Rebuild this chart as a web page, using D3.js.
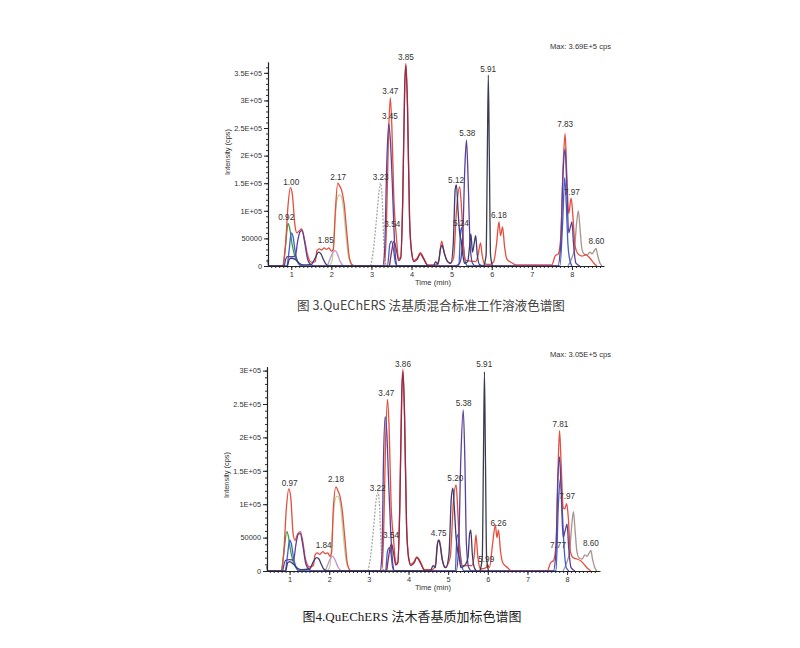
<!DOCTYPE html>
<html>
<head>
<meta charset="utf-8">
<script src="https://cdn.jsdelivr.net/npm/d3@7"></script>
<style>
  body { margin: 0; background: #fff; }
  svg { display: block; }
</style>
</head>
<body>
<svg width="800" height="648"></svg>
<script>
// ---- data: figure 3 (mixed standard) ----
var xTicks = [1, 2, 3, 4, 5, 6, 7, 8];
var yTicksTop = [0, 50000, 100000, 150000, 200000, 250000, 300000, 350000];
var yTicksBot = [0, 50000, 100000, 150000, 200000, 250000, 300000];

var redTop = [[0.42,0],[0.78,0],[0.85,30e3],[0.92,110e3],[0.98,142e3],[1.03,128e3],[1.09,75e3],[1.14,60e3],[1.2,64e3],[1.26,67e3],[1.32,52e3],[1.4,22e3],[1.5,7e3],[1.6,8e3],[1.64,28e3],[1.7,31e3],[1.76,29e3],[1.82,33e3],[1.88,30e3],[1.94,33e3],[2.0,27e3],[2.05,30e3],[2.1,100e3],[2.16,150e3],[2.2,146e3],[2.26,136e3],[2.32,112e3],[2.38,65e3],[2.45,15e3],[2.52,2e3],[2.6,0],[3.32,0],[3.37,60e3],[3.42,220e3],[3.47,305e3],[3.51,250e3],[3.56,120e3],[3.62,55e3],[3.68,14e3],[3.73,15e3],[3.78,120e3],[3.83,330e3],[3.86,367e3],[3.9,290e3],[3.95,90e3],[4.0,28e3],[4.06,10e3],[4.14,14e3],[4.22,24e3],[4.3,15e3],[4.4,2e3],[4.6,2e3],[4.68,10e3],[4.75,45e3],[4.8,30e3],[4.88,10e3],[4.96,5e3],[5.05,15e3],[5.12,100e3],[5.2,144e3],[5.25,100e3],[5.3,30e3],[5.35,10e3],[5.6,8e3],[5.66,20e3],[5.72,42e3],[5.76,20e3],[5.82,4e3],[5.96,3e3],[6.05,8e3],[6.12,40e3],[6.18,80e3],[6.22,55e3],[6.27,71e3],[6.32,35e3],[6.38,12e3],[6.5,6e3],[6.6,2e3],[7.5,2e3],[7.58,18e3],[7.66,22e3],[7.72,50e3],[7.78,180e3],[7.83,240e3],[7.87,170e3],[7.92,95e3],[7.98,123e3],[8.02,95e3],[8.08,35e3],[8.15,22e3],[8.25,18e3],[8.35,20e3],[8.45,14e3],[8.55,5e3],[8.62,0]];
var maroonTop = [[3.45,0],[3.5,25e3],[3.56,45e3],[3.62,30e3],[3.68,10e3],[3.73,14e3],[3.78,115e3],[3.83,325e3],[3.86,363e3],[3.9,285e3],[3.95,85e3],[4.0,25e3],[4.06,8e3],[4.14,12e3],[4.22,22e3],[4.3,13e3],[4.4,1e3],[4.5,0]];
var purpleTop = [[0.42,0],[0.82,0],[0.86,12e3],[0.9,17e3],[1.0,17e3],[1.1,18e3],[1.16,45e3],[1.22,62e3],[1.27,64e3],[1.33,45e3],[1.4,15e3],[1.48,3e3],[1.6,0],[3.28,0],[3.33,30e3],[3.38,180e3],[3.43,258e3],[3.47,230e3],[3.52,150e3],[3.56,70e3],[3.6,15e3],[3.65,0],[5.1,0],[5.2,5e3],[5.27,40e3],[5.33,180e3],[5.37,228e3],[5.41,160e3],[5.46,40e3],[5.52,5e3],[5.6,0],[7.65,0],[7.72,40e3],[7.78,170e3],[7.83,212e3],[7.87,150e3],[7.92,60e3],[7.96,70e3],[8.0,80e3],[8.04,40e3],[8.1,5e3],[8.2,0]];
var navyTop = [[0.42,12e3],[0.43,0],[0.9,0],[0.95,12e3],[1.0,14e3],[1.1,12e3],[1.2,5e3],[1.3,2e3],[1.5,3e3],[1.6,15e3],[1.68,25e3],[1.74,22e3],[1.8,12e3],[1.86,4e3],[1.95,0],[4.55,0],[4.6,8e3],[4.66,3e3],[4.72,30e3],[4.76,38e3],[4.82,22e3],[4.9,8e3],[4.98,5e3],[5.04,40e3],[5.09,140e3],[5.12,147e3],[5.16,100e3],[5.2,60e3],[5.24,45e3],[5.28,20e3],[5.32,5e3],[5.4,8e3],[5.44,30e3],[5.48,58e3],[5.52,25e3],[5.56,40e3],[5.6,55e3],[5.64,20e3],[5.7,2e3],[5.8,0]];
var blueTop = [[0.9,0],[0.95,30e3],[1.0,60e3],[1.04,55e3],[1.1,25e3],[1.16,8e3],[1.25,0],[3.4,0],[3.46,40e3],[3.5,45e3],[3.55,30e3],[3.6,5e3],[3.65,0],[5.18,0],[5.22,60e3],[5.25,70e3],[5.29,40e3],[5.35,5e3],[5.4,0],[7.7,0],[7.77,80e3],[7.82,160e3],[7.86,110e3],[7.9,40e3],[7.95,10e3],[8.0,0]];
var greenTop = [[0.8,0],[0.86,40e3],[0.92,77e3],[0.97,65e3],[1.02,40e3],[1.08,20e3],[1.15,8e3],[1.22,2e3],[1.3,0]];
var lightGreenTop = [[1.95,0],[2.02,10e3],[2.08,70e3],[2.14,120e3],[2.2,129e3],[2.25,126e3],[2.3,105e3],[2.36,60e3],[2.42,20e3],[2.5,3e3],[2.56,0]];
var grayTop = [[2.98,0],[3.05,30e3],[3.12,80e3],[3.19,135e3],[3.23,150e3],[3.27,120e3],[3.31,40e3],[3.35,5e3],[3.4,0]];
var pinkTop = [[1.9,0],[1.98,15e3],[2.05,26e3],[2.1,28e3],[2.16,20e3],[2.22,8e3],[2.3,0]];
var slateTop = [[5.8,0],[5.86,20e3],[5.89,200e3],[5.915,346e3],[5.94,200e3],[5.97,20e3],[6.02,0]];
var taupeTop = [[7.9,0],[8.0,15e3],[8.06,30e3],[8.12,80e3],[8.16,100e3],[8.2,70e3],[8.25,30e3],[8.3,22e3],[8.38,20e3],[8.45,25e3],[8.5,22e3],[8.56,28e3],[8.6,32e3],[8.64,20e3],[8.7,5e3],[8.75,0]];
var labelsTop = [["1.00",1.00,147e3],["0.92",0.875,83e3],["1.85",1.86,42e3],["2.17",2.17,156e3],["3.23",3.23,155e3],["3.45",3.46,266e3],["3.47",3.47,312e3],["3.54",3.52,70e3],["3.85",3.86,373e3],["5.12",5.11,150e3],["5.24",5.23,73e3],["5.38",5.39,235e3],["5.91",5.91,352e3],["6.18",6.18,87e3],["7.83",7.83,252e3],["7.97",8.0,129e3],["8.60",8.61,40e3]];

// ---- data: figure 4 (spiked matrix) ----
var redBot = [[0.43,0],[0.78,0],[0.85,25e3],[0.92,95e3],[0.98,123e3],[1.03,110e3],[1.09,55e3],[1.14,46e3],[1.2,55e3],[1.27,59e3],[1.33,45e3],[1.4,18e3],[1.5,6e3],[1.6,8e3],[1.64,24e3],[1.7,27e3],[1.76,25e3],[1.84,29e3],[1.9,26e3],[1.96,27e3],[2.02,22e3],[2.06,28e3],[2.1,90e3],[2.17,126e3],[2.22,120e3],[2.27,112e3],[2.33,90e3],[2.4,45e3],[2.46,10e3],[2.55,0],[3.32,0],[3.37,50e3],[3.42,190e3],[3.47,257e3],[3.51,215e3],[3.56,100e3],[3.62,50e3],[3.68,12e3],[3.73,12e3],[3.78,100e3],[3.83,270e3],[3.86,302e3],[3.9,235e3],[3.95,70e3],[4.0,22e3],[4.06,10e3],[4.14,14e3],[4.21,21e3],[4.3,14e3],[4.4,2e3],[4.6,2e3],[4.68,10e3],[4.74,45e3],[4.78,46e3],[4.84,20e3],[4.92,5e3],[5.05,20e3],[5.14,110e3],[5.2,129e3],[5.25,80e3],[5.3,20e3],[5.35,8e3],[5.6,8e3],[5.66,25e3],[5.7,54e3],[5.75,20e3],[5.82,3e3],[5.96,5e3],[5.99,10e3],[6.04,5e3],[6.12,40e3],[6.19,69e3],[6.23,50e3],[6.27,61e3],[6.32,30e3],[6.38,12e3],[6.5,5e3],[6.6,0],[7.5,0],[7.58,12e3],[7.66,16e3],[7.72,40e3],[7.77,150e3],[7.81,210e3],[7.85,160e3],[7.9,95e3],[7.94,93e3],[7.99,101e3],[8.03,80e3],[8.08,30e3],[8.15,20e3],[8.25,18e3],[8.35,15e3],[8.5,5e3],[8.6,0]];
var maroonBot = [[3.45,0],[3.5,22e3],[3.57,41e3],[3.62,28e3],[3.68,9e3],[3.73,12e3],[3.78,95e3],[3.83,266e3],[3.86,298e3],[3.9,230e3],[3.95,68e3],[4.0,20e3],[4.06,8e3],[4.14,12e3],[4.21,20e3],[4.3,12e3],[4.4,1e3],[4.5,0]];
var purpleBot = [[0.43,0],[0.82,0],[0.86,10e3],[0.9,16e3],[1.0,17e3],[1.1,16e3],[1.16,40e3],[1.22,55e3],[1.27,56e3],[1.33,40e3],[1.4,13e3],[1.48,3e3],[1.6,0],[3.28,0],[3.33,25e3],[3.37,170e3],[3.41,231e3],[3.45,210e3],[3.5,130e3],[3.55,60e3],[3.6,12e3],[3.65,0],[5.2,0],[5.26,30e3],[5.32,170e3],[5.38,241e3],[5.42,170e3],[5.46,40e3],[5.52,5e3],[5.6,0],[7.65,0],[7.72,30e3],[7.77,140e3],[7.81,171e3],[7.85,120e3],[7.9,50e3],[7.95,60e3],[8.0,70e3],[8.04,35e3],[8.1,5e3],[8.2,0]];
var navyBot = [[0.43,8e3],[0.44,0],[0.9,0],[0.95,12e3],[1.0,14e3],[1.1,10e3],[1.2,4e3],[1.3,2e3],[1.5,3e3],[1.6,14e3],[1.68,20e3],[1.74,18e3],[1.8,10e3],[1.86,3e3],[1.95,0],[4.55,0],[4.62,8e3],[4.68,5e3],[4.72,35e3],[4.76,46e3],[4.8,38e3],[4.86,15e3],[4.94,5e3],[5.02,25e3],[5.08,110e3],[5.12,124e3],[5.16,90e3],[5.2,50e3],[5.24,30e3],[5.28,20e3],[5.32,5e3],[5.44,10e3],[5.5,20e3],[5.54,55e3],[5.57,61e3],[5.61,25e3],[5.66,5e3],[5.72,0]];
var blueBot = [[0.9,0],[0.95,25e3],[1.0,46e3],[1.04,42e3],[1.1,20e3],[1.16,6e3],[1.25,0],[3.42,0],[3.47,30e3],[3.52,35e3],[3.56,25e3],[3.6,5e3],[3.65,0],[5.18,0],[5.22,50e3],[5.26,55e3],[5.3,30e3],[5.36,4e3],[5.4,0],[7.72,0],[7.78,100e3],[7.84,140e3],[7.88,90e3],[7.93,30e3],[7.98,5e3],[8.05,0]];
var greenBot = [[0.8,0],[0.86,30e3],[0.93,59e3],[0.97,52e3],[1.02,32e3],[1.08,16e3],[1.15,6e3],[1.22,1e3],[1.3,0]];
var lightGreenBot = [[1.95,0],[2.02,8e3],[2.08,60e3],[2.14,105e3],[2.2,112e3],[2.25,108e3],[2.3,90e3],[2.36,50e3],[2.42,18e3],[2.5,3e3],[2.56,0]];
var grayBot = [[2.98,0],[3.05,25e3],[3.12,65e3],[3.18,105e3],[3.23,118e3],[3.27,95e3],[3.31,35e3],[3.35,5e3],[3.4,0]];
var pinkBot = [[1.9,0],[1.98,12e3],[2.04,20e3],[2.09,22e3],[2.15,16e3],[2.22,6e3],[2.3,0]];
var slateBot = [[5.8,0],[5.86,20e3],[5.89,170e3],[5.915,298e3],[5.94,170e3],[5.97,20e3],[6.02,0]];
var taupeBot = [[7.9,0],[8.0,14e3],[8.06,28e3],[8.12,70e3],[8.16,89e3],[8.2,62e3],[8.25,28e3],[8.3,20e3],[8.38,18e3],[8.45,24e3],[8.5,22e3],[8.56,27e3],[8.6,31e3],[8.64,18e3],[8.7,5e3],[8.75,0]];
var labelsBot = [["0.97",1.0,127e3],["1.84",1.86,34e3],["2.18",2.17,133e3],["3.22",3.22,120e3],["3.47",3.44,262e3],["3.54",3.56,49e3],["3.86",3.86,305e3],["4.75",4.76,52e3],["5.20",5.18,134e3],["5.38",5.39,247e3],["5.91",5.91,305e3],["5.99",5.96,13e3],["6.26",6.27,67e3],["7.77",7.77,34e3],["7.81",7.83,215e3],["7.97",8.0,108e3],["8.60",8.6,38e3]];

var traceColors = {
    gray: '#a9a9a9', lightGreen: '#b6d8a0', pink: '#c78fc9', taupe: '#a8948f',
    green: '#3f9c4b', blue: '#3f5fcc', red: '#e54d3d', maroon: '#8d2c4c',
    purple: '#5c4199', navy: '#3d3b72', slate: '#3a3d4f'
};

var svg = d3.select('svg');
svg.selectAll('*').remove();
svg.append('rect').attr('width', 800).attr('height', 648).attr('fill', '#fff');

function fmtY(v) {
    if (v === 0) return '0';
    if (v < 1e5) return String(v);
    return (v / 1e5) + 'E+05';
}

function drawPanel(opt) {
    var g = svg.append('g').attr('class', opt.name);
    var x = d3.scaleLinear().domain(opt.xDomain).range(opt.xRange);
    var y = d3.scaleLinear().domain(opt.yDomain).range(opt.yRange);

    // minor ticks
    g.append('g').attr('transform', 'translate(0,' + opt.yRange[0] + ')')
        .call(d3.axisBottom(x).tickValues(d3.range(5, 88).map(d => d / 10)).tickSize(2).tickFormat(''))
        .call(a => a.select('.domain').remove())
        .selectAll('line').attr('stroke', '#333');
    g.append('g').attr('transform', 'translate(' + opt.xRange[0] + ',0)')
        .call(d3.axisLeft(y).tickValues(d3.range(0, opt.yDomain[1], 10000)).tickSize(2).tickFormat(''))
        .call(a => a.select('.domain').remove())
        .selectAll('line').attr('stroke', '#333');

    var line = d3.line()
        .x(d => x(d[0]))
        .y(d => y(d[1]))
        .curve(d3.curveMonotoneX);

    opt.traces.forEach(function(t) {
        g.append('path')
            .datum(t.data)
            .attr('d', line)
            .attr('fill', 'none')
            .attr('stroke', traceColors[t.color])
            .attr('stroke-width', 1.3)
            .attr('stroke-dasharray', t.color === 'gray' ? '2,1.4' : null)
            .attr('stroke-linejoin', 'round');
    });

    var xa = g.append('g').attr('transform', 'translate(0,' + opt.yRange[0] + ')')
        .call(d3.axisBottom(x).tickValues(xTicks).tickSize(4).tickSizeOuter(0).tickPadding(2));
    var ya = g.append('g').attr('transform', 'translate(' + opt.xRange[0] + ',0)')
        .call(d3.axisLeft(y).tickValues(opt.yTicks).tickSize(4).tickSizeOuter(0).tickPadding(2).tickFormat(fmtY));
    [xa, ya].forEach(function(a) {
        a.select('.domain').attr('stroke', '#222').attr('stroke-width', 1.2);
        a.selectAll('line').attr('stroke', '#222');
        a.selectAll('text').attr('fill', '#333')
            .style('font-family', 'Liberation Sans, Arial, sans-serif')
            .style('font-size', '7.4px');
    });

    g.selectAll('text.peak')
        .data(opt.labels)
        .enter()
            .append('text')
            .attr('class', 'peak')
            .attr('x', d => x(d[1]))
            .attr('y', d => y(d[2]))
            .attr('text-anchor', 'middle')
            .style('font-family', 'Liberation Sans, Arial, sans-serif')
            .style('font-size', '8.2px')
            .style('fill', '#333')
            .text(d => d[0]);

    g.append('text')
        .attr('transform', 'translate(' + (opt.xRange[0] - 38) + ',' + opt.yTitleY + ') rotate(-90)')
        .attr('text-anchor', 'middle')
        .style('font-family', 'Liberation Sans, Arial, sans-serif')
        .style('font-size', '7.4px')
        .style('fill', '#333')
        .text('Intensity (cps)');

    g.append('text')
        .attr('x', opt.xTitleX)
        .attr('y', opt.yRange[0] + 19)
        .attr('text-anchor', 'middle')
        .style('font-family', 'Liberation Sans, Arial, sans-serif')
        .style('font-size', '7.6px')
        .style('fill', '#333')
        .text('Time (min)');

    g.append('text')
        .attr('x', 611)
        .attr('y', opt.maxY)
        .attr('text-anchor', 'end')
        .style('font-family', 'Liberation Sans, Arial, sans-serif')
        .style('font-size', '7.6px')
        .style('fill', '#333')
        .text(opt.maxText);
}

drawPanel({
    name: 'fig3',
    xDomain: [0.42, 8.8], xRange: [268, 604],
    yDomain: [0, 370000], yRange: [266, 61.8],
    yTicks: yTicksTop, yTitleY: 152, xTitleX: 433, maxY: 48.5,
    maxText: 'Max: 3.69E+5 cps',
    labels: labelsTop,
    traces: [
        {color: 'gray', data: grayTop}, {color: 'lightGreen', data: lightGreenTop},
        {color: 'pink', data: pinkTop}, {color: 'taupe', data: taupeTop},
        {color: 'green', data: greenTop}, {color: 'blue', data: blueTop},
        {color: 'red', data: redTop}, {color: 'maroon', data: maroonTop},
        {color: 'purple', data: purpleTop}, {color: 'navy', data: navyTop},
        {color: 'slate', data: slateTop}
    ]
});

drawPanel({
    name: 'fig4',
    xDomain: [0.43, 8.83], xRange: [267, 600],
    yDomain: [0, 306000], yRange: [571, 366.6],
    yTicks: yTicksBot, yTitleY: 475, xTitleX: 433, maxY: 357,
    maxText: 'Max: 3.05E+5 cps',
    labels: labelsBot,
    traces: [
        {color: 'gray', data: grayBot}, {color: 'lightGreen', data: lightGreenBot},
        {color: 'pink', data: pinkBot}, {color: 'taupe', data: taupeBot},
        {color: 'green', data: greenBot}, {color: 'blue', data: blueBot},
        {color: 'red', data: redBot}, {color: 'maroon', data: maroonBot},
        {color: 'purple', data: purpleBot}, {color: 'navy', data: navyBot},
        {color: 'slate', data: slateBot}
    ]
});

// captions
svg.append('text')
    .attr('x', 431).attr('y', 310)
    .attr('text-anchor', 'middle')
    .style('font-family', '"Noto Sans CJK SC", "Noto Sans", sans-serif')
    .style('font-size', '12.6px')
    .style('fill', '#444')
    .text('图 3.QuEChERS 法基质混合标准工作溶液色谱图');

svg.append('text')
    .attr('x', 412).attr('y', 621)
    .attr('text-anchor', 'middle')
    .style('font-family', '"Liberation Serif", "Noto Sans CJK SC", serif')
    .style('font-size', '13px')
    .style('fill', '#222')
    .text('图4.QuEChERS 法木香基质加标色谱图');
</script>
</body>
</html>
